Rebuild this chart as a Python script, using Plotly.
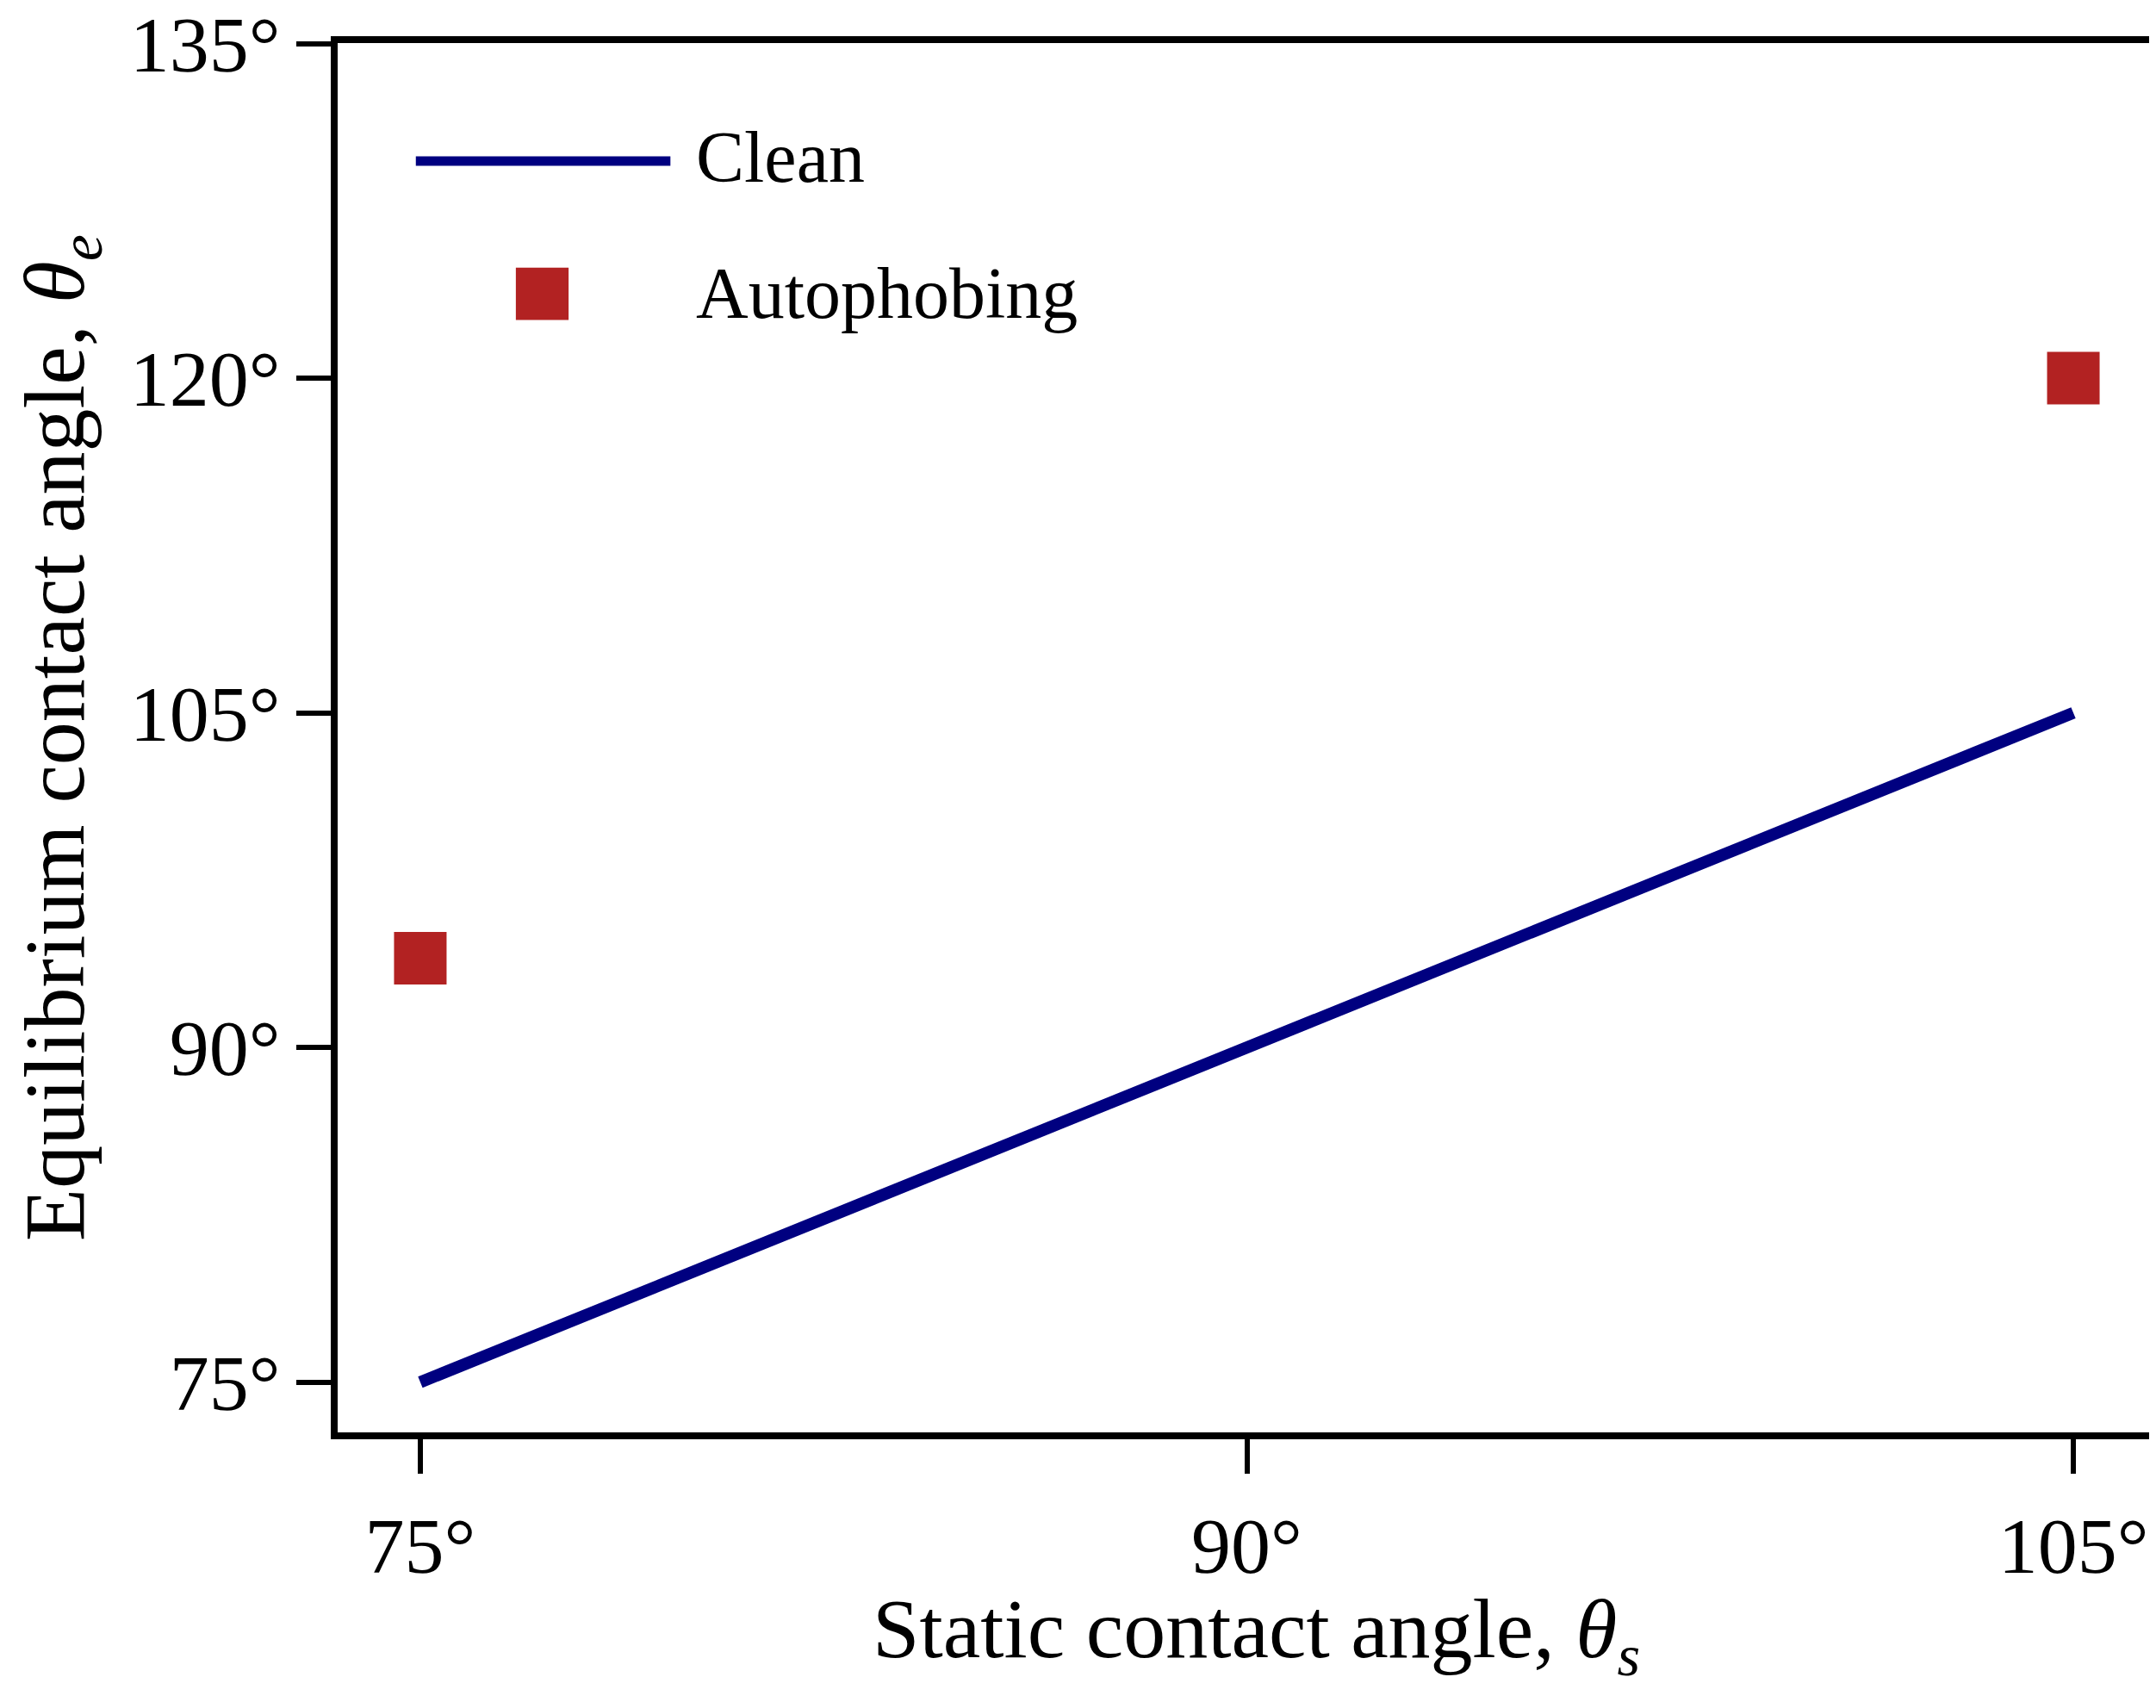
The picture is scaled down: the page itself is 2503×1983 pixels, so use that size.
import plotly.graph_objects as go

# data
clean_x = [75, 105]
clean_y = [75, 105]
auto_x = [75, 105]
auto_y = [94, 120]
x_ticks = [75, 90, 105]
x_labels = ["75°", "90°", "105°"]
y_ticks = [75, 90, 105, 120, 135]
y_labels = ["75°", "90°", "105°", "120°", "135°"]

FONT = "Liberation Serif, Times New Roman, serif"
NAVY = "#000080"
RED = "#B22222"

fig = go.Figure()

fig.add_trace(go.Scatter(
    x=clean_x, y=clean_y, mode="lines", name="Clean",
    line=dict(color=NAVY, width=14), showlegend=False
))
fig.add_trace(go.Scatter(
    x=auto_x, y=auto_y, mode="markers", name="Autophobing",
    marker=dict(color=RED, symbol="square", size=61, line=dict(width=0)),
    showlegend=False
))

# hand drawn legend (matplotlib style, long line sample)
fig.add_shape(type="line", xref="paper", yref="paper",
              x0=0.0430, x1=0.1830, y0=0.915, y1=0.915,
              line=dict(color=NAVY, width=11))
fig.add_shape(type="rect", xref="paper", yref="paper",
              x0=0.1125 - 0.0145, x1=0.1125 + 0.0145,
              y0=0.8195 - 0.0188, y1=0.8195 + 0.0188,
              fillcolor=RED, line=dict(width=0))
fig.add_annotation(text="Clean", xref="paper", yref="paper",
                   x=0.1960, y=0.918, xanchor="left", yanchor="middle",
                   showarrow=False, font=dict(family=FONT, size=84, color="black"))
fig.add_annotation(text="Autophobing", xref="paper", yref="paper",
                   x=0.1960, y=0.820, xanchor="left", yanchor="middle",
                   showarrow=False, font=dict(family=FONT, size=84, color="black"))

# x axis title as annotation (axis title gets clamped to the margin)
fig.add_annotation(text="Static contact angle, <i>θ</i><sub><i>s</i></sub>",
                   xref="paper", yref="paper", x=0.505, y=-0.146,
                   xanchor="center", yanchor="middle", showarrow=False,
                   font=dict(family=FONT, size=98, color="black"))

axis_common = dict(
    showline=True, linewidth=8, linecolor="black", mirror=True,
    ticks="outside", ticklen=40, tickwidth=6, tickcolor="black",
    showgrid=False, zeroline=False, ticklabeloverflow="allow",
    automargin=False,
    tickfont=dict(family=FONT, size=92, color="black"),
)

fig.update_xaxes(
    range=[73.5, 106.5], tickvals=x_ticks, ticktext=x_labels,
    ticklabelstandoff=5,
    **axis_common
)
fig.update_yaxes(
    range=[72.75, 135.02], tickvals=y_ticks, ticktext=y_labels,
    title=dict(text="Equilibrium contact angle, <i>θ</i><sub><i>e</i></sub>",
               font=dict(family=FONT, size=100, color="black"), standoff=72),
    **axis_common
)

fig.update_layout(
    width=2503, height=1983,
    margin=dict(l=384, r=8, t=42, b=328),
    plot_bgcolor="white", paper_bgcolor="white",
    font=dict(family=FONT, color="black"),
)

fig.write_html("out.html")
